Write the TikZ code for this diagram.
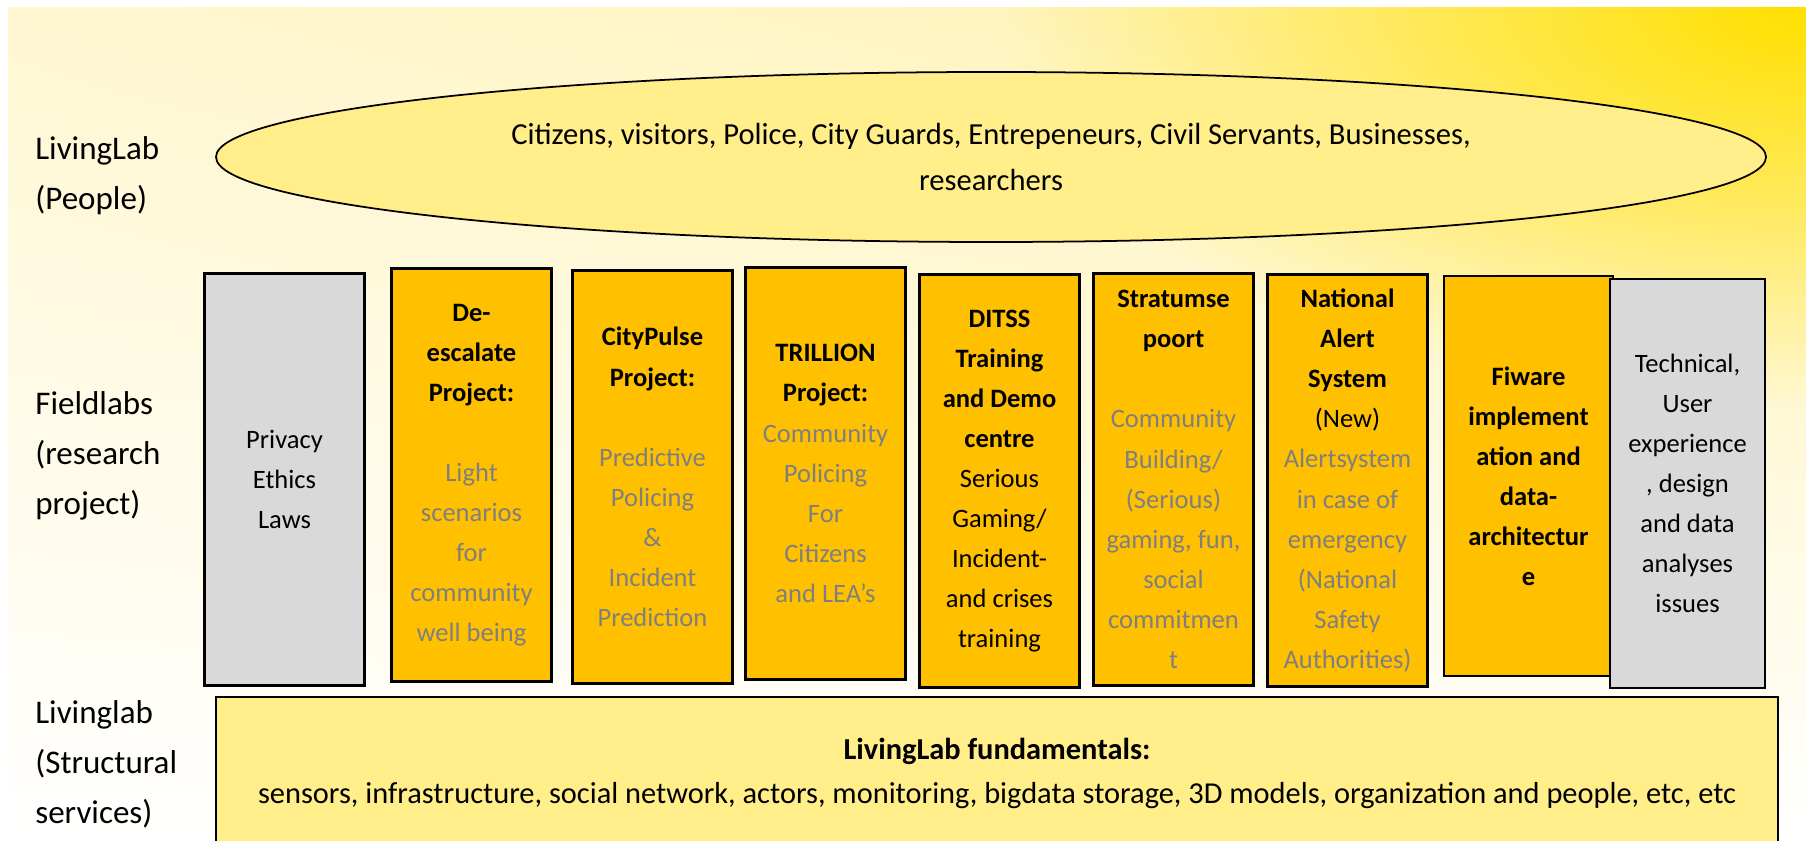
\documentclass[tikz,border=0pt]{standalone}
\usepackage{fontspec}
\setmainfont{Carlito}
\usetikzlibrary{shapes.geometric,fadings,shadings}

\definecolor{labgold}{HTML}{FFC000}
\definecolor{labgray}{HTML}{D9D9D9}
\definecolor{labyellow}{HTML}{FFEE8A}
\definecolor{labtext}{HTML}{7F7F7F}
\definecolor{labsun}{HTML}{FFE000}
\definecolor{labglow}{HTML}{FFF2B0}
\definecolor{labpale}{HTML}{FFF7D2}

\newcommand{\ptitle}[1]{\textbf{#1}}
\newcommand{\pnote}[1]{\textcolor{labtext}{#1}}

\tikzfading[name=sunfade, inner color=transparent!0, outer color=transparent!100]

\begin{document}
\begin{tikzpicture}[
	project/.style={rectangle, draw=black, line width=1.6pt, fill=labgold, minimum width=3.2cm, minimum height=8.25cm, text width=3cm, align=flush center, inner sep=0pt, font=\fontsize{15.1}{22.8}\selectfont},
	issues/.style={project, fill=labgray},
	people/.style={ellipse, draw=black, line width=1pt, fill=labyellow, minimum width=31cm, minimum height=3.4cm, inner sep=0pt, align=center, font=\fontsize{17.4}{26.7}\selectfont},
	rowlabel/.style={anchor=west, align=left, inner sep=0pt, font=\fontsize{18.8}{28.5}\selectfont},
	fundbox/.style={rectangle, draw=black, line width=1.6pt, fill=labyellow, minimum width=31.24cm, minimum height=3.04cm, align=center, inner sep=0pt, font=\fontsize{17.3}{25}\selectfont}]
	
	\useasboundingbox (0,0) rectangle (36.12,16.8);
	\clip (0,0) rectangle (36.12,16.8);
	\shade[upper left=labpale, upper right=labglow, lower left=white, lower right=white] (0.16,0) rectangle (36.12,16.64);
	\begin{scope}
		\clip (0.16,0) rectangle (36.12,16.64);
		\fill[labsun, path fading=sunfade] (36.12,16.64) ellipse (16 and 8);
	\end{scope}
	
	\node[rowlabel] (peoplelabel)  at (0.7,13.28) {LivingLab\\(People)};
	\node[rowlabel] (fieldlabel)   at (0.7,7.68)  {Fieldlabs\\(research\\project)};
	\node[rowlabel] (servicelabel) at (0.7,1.52)  {Livinglab\\(Structural\\services)};
	
	\node[people] (citizens) at (19.82,13.66) {Citizens, visitors, Police, City Guards, Entrepeneurs, Civil Servants, Businesses,\\researchers};
	
	\node[issues]  (privacy)    at (5.69,7.21)  {Privacy\\Ethics\\Laws};
	\node[project] (deescalate) at (9.43,7.30)  {\ptitle{De-}\\\ptitle{escalate}\\\ptitle{Project:}\\[22.8pt]\pnote{Light}\\\pnote{scenarios}\\\pnote{for}\\\pnote{community}\\\pnote{well being}};
	\node[project] (citypulse)  at (13.05,7.26) {\ptitle{CityPulse}\\\ptitle{Project:}\\[22.8pt]\pnote{Predictive}\\\pnote{Policing}\\\pnote{\&}\\\pnote{Incident}\\\pnote{Prediction}};
	\node[project] (trillion)   at (16.51,7.33) {\ptitle{TRILLION}\\\ptitle{Project:}\\\pnote{Community}\\\pnote{Policing}\\\pnote{For}\\\pnote{Citizens}\\\pnote{and LEA’s}};
	\node[project] (ditss)      at (19.99,7.18) {\ptitle{DITSS}\\\ptitle{Training}\\\ptitle{and Demo}\\\ptitle{centre}\\Serious\\Gaming/\\Incident-\\and crises\\training};
	\node[project] (stratumse)  at (23.47,7.21) {\ptitle{Stratumse}\\\ptitle{poort}\\[22.8pt]\pnote{Community}\\\pnote{Building/}\\\pnote{(Serious)}\\\pnote{gaming, fun,}\\\pnote{social}\\\pnote{commitmen}\\\pnote{t}};
	\node[project] (alert)      at (26.95,7.19) {\ptitle{National}\\\ptitle{Alert}\\\ptitle{System}\\(New)\\\pnote{Alertsystem}\\\pnote{in case of}\\\pnote{emergency}\\\pnote{(National}\\\pnote{Safety}\\\pnote{Authorities)}};
	\node[project, minimum width=3.38cm, minimum height=8cm] (fiware) at (30.57,7.28) {\ptitle{Fiware}\\\ptitle{implement}\\\ptitle{ation and}\\\ptitle{data-}\\\ptitle{architectur}\\\ptitle{e}};
	\node[issues, minimum width=3.1cm, minimum height=8.18cm, text width=2.9cm] (technical) at (33.75,7.13) {Technical,\\User\\experience\\, design\\and data\\analyses\\issues};
	
	\node[fundbox] (fundamentals) at (19.94,1.34) {\ptitle{LivingLab fundamentals:}\\sensors, infrastructure, social network, actors, monitoring, bigdata storage, 3D models, organization and people, etc, etc};
	
\end{tikzpicture}
\end{document}
